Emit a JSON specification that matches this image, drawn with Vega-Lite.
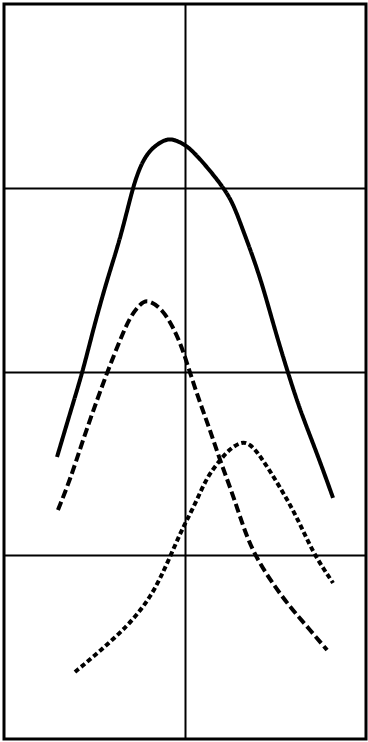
{
  "$schema": "https://vega.github.io/schema/vega-lite/v6.json",
  "width": 362,
  "height": 735,
  "autosize": {"type": "none"},
  "padding": {"left": 4, "top": 4, "right": 2, "bottom": 3},
  "background": "white",
  "config": {
    "view": {"stroke": "black", "strokeWidth": 3},
    "axis": {"grid": true, "gridColor": "black", "gridWidth": 2, "gridOpacity": 1, "labels": false, "ticks": false, "domain": false, "title": null}
  },
  "data": {
    "values": [
      {"series": "A", "x": 0.293, "y": 1.535},
      {"series": "A", "x": 0.365, "y": 1.774},
      {"series": "A", "x": 0.436, "y": 2.003},
      {"series": "A", "x": 0.492, "y": 2.226},
      {"series": "A", "x": 0.569, "y": 2.498},
      {"series": "A", "x": 0.627, "y": 2.675},
      {"series": "A", "x": 0.672, "y": 2.841},
      {"series": "A", "x": 0.713, "y": 3.004},
      {"series": "A", "x": 0.751, "y": 3.113},
      {"series": "A", "x": 0.796, "y": 3.195},
      {"series": "A", "x": 0.862, "y": 3.249},
      {"series": "A", "x": 0.917, "y": 3.270},
      {"series": "A", "x": 0.972, "y": 3.249},
      {"series": "A", "x": 1.028, "y": 3.216},
      {"series": "A", "x": 1.122, "y": 3.113},
      {"series": "A", "x": 1.210, "y": 3.004},
      {"series": "A", "x": 1.265, "y": 2.917},
      {"series": "A", "x": 1.320, "y": 2.770},
      {"series": "A", "x": 1.376, "y": 2.623},
      {"series": "A", "x": 1.431, "y": 2.460},
      {"series": "A", "x": 1.497, "y": 2.226},
      {"series": "A", "x": 1.564, "y": 2.008},
      {"series": "A", "x": 1.635, "y": 1.790},
      {"series": "A", "x": 1.729, "y": 1.556},
      {"series": "A", "x": 1.818, "y": 1.312},
      {"series": "B", "x": 0.298, "y": 1.246},
      {"series": "B", "x": 0.365, "y": 1.410},
      {"series": "B", "x": 0.436, "y": 1.627},
      {"series": "B", "x": 0.514, "y": 1.845},
      {"series": "B", "x": 0.575, "y": 2.008},
      {"series": "B", "x": 0.641, "y": 2.171},
      {"series": "B", "x": 0.696, "y": 2.297},
      {"series": "B", "x": 0.751, "y": 2.367},
      {"series": "B", "x": 0.796, "y": 2.395},
      {"series": "B", "x": 0.878, "y": 2.335},
      {"series": "B", "x": 0.934, "y": 2.242},
      {"series": "B", "x": 0.983, "y": 2.133},
      {"series": "B", "x": 1.028, "y": 1.992},
      {"series": "B", "x": 1.083, "y": 1.829},
      {"series": "B", "x": 1.138, "y": 1.682},
      {"series": "B", "x": 1.193, "y": 1.518},
      {"series": "B", "x": 1.265, "y": 1.328},
      {"series": "B", "x": 1.320, "y": 1.160},
      {"series": "B", "x": 1.376, "y": 1.018},
      {"series": "B", "x": 1.470, "y": 0.865},
      {"series": "B", "x": 1.580, "y": 0.718},
      {"series": "B", "x": 1.691, "y": 0.593},
      {"series": "B", "x": 1.785, "y": 0.484},
      {"series": "C", "x": 0.392, "y": 0.365},
      {"series": "C", "x": 0.492, "y": 0.446},
      {"series": "C", "x": 0.586, "y": 0.528},
      {"series": "C", "x": 0.680, "y": 0.615},
      {"series": "C", "x": 0.751, "y": 0.697},
      {"series": "C", "x": 0.807, "y": 0.773},
      {"series": "C", "x": 0.862, "y": 0.871},
      {"series": "C", "x": 0.917, "y": 0.990},
      {"series": "C", "x": 0.972, "y": 1.116},
      {"series": "C", "x": 1.011, "y": 1.192},
      {"series": "C", "x": 1.066, "y": 1.301},
      {"series": "C", "x": 1.122, "y": 1.426},
      {"series": "C", "x": 1.193, "y": 1.518},
      {"series": "C", "x": 1.249, "y": 1.580},
      {"series": "C", "x": 1.315, "y": 1.620},
      {"series": "C", "x": 1.359, "y": 1.605},
      {"series": "C", "x": 1.414, "y": 1.545},
      {"series": "C", "x": 1.525, "y": 1.371},
      {"series": "C", "x": 1.619, "y": 1.208},
      {"series": "C", "x": 1.707, "y": 1.012},
      {"series": "C", "x": 1.818, "y": 0.849}
    ]
  },
  "mark": {"type": "line", "color": "black", "strokeWidth": 4, "interpolate": "basis"},
  "encoding": {
    "x": {"field": "x", "type": "quantitative", "scale": {"domain": [0, 2], "nice": false}, "axis": {"values": [1]}},
    "y": {"field": "y", "type": "quantitative", "scale": {"domain": [0, 4], "nice": false}, "axis": {"values": [1, 2, 3]}},
    "strokeDash": {"field": "series", "type": "nominal", "scale": {"domain": ["A", "B", "C"], "range": [[1, 0], [9, 4], [5, 3]]}, "legend": null}
  }
}
